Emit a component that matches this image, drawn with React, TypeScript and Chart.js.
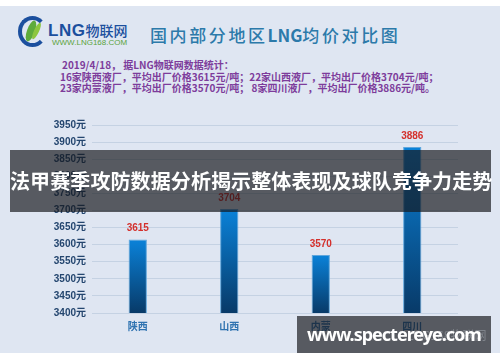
import React, { useEffect, useRef } from "react";
import { Chart, registerables } from "chart.js";

Chart.register(...registerables);

const categories = ["陕西", "山西", "内蒙", "四川"];
const prices = [3615, 3704, 3570, 3886];
const yMin = 3400;
const yMax = 3950;
const yStep = 50;
const tickSuffix = "元";

const noteLines = [
  "2019/4/18， 据LNG物联网数据统计：",
  "16家陕西液厂，平均出厂价格3615元/吨；22家山西液厂，平均出厂价格3704元/吨；",
  "23家内蒙液厂，平均出厂价格3570元/吨； 8家四川液厂，平均出厂价格3886元/吨。",
];
const bannerText = "法甲赛季攻防数据分析揭示整体表现及球队竞争力走势";
const watermarkText = "www.spectereye.com";

const CJK = '"Noto Sans CJK SC", "Noto Sans", sans-serif';

const valueLabelPlugin = {
  id: "valueLabels",
  afterDatasetsDraw(chart: any) {
    const ctx = chart.ctx;
    const meta = chart.getDatasetMeta(0);
    ctx.save();
    ctx.fillStyle = "#d4302c";
    ctx.font = 'bold 10px "Liberation Sans", Arial, sans-serif';
    ctx.textAlign = "center";
    ctx.textBaseline = "middle";
    meta.data.forEach((el: any, i: number) => {
      ctx.fillText(String(chart.data.datasets[0].data[i]), el.x, el.y - 11);
    });
    ctx.restore();
  },
};

function ChartCanvas() {
  const ref = useRef<HTMLCanvasElement | null>(null);
  useEffect(() => {
    if (!ref.current) return;
    const chart = new Chart(ref.current, {
      type: "bar",
      data: {
        labels: categories,
        datasets: [
          {
            data: prices,
            backgroundColor: (c: any) => {
              const chart = c.chart;
              const area = chart.chartArea;
              if (!area || c.raw == null) return "#0a6fc0";
              const y = chart.scales.y.getPixelForValue(c.raw);
              const g = chart.ctx.createLinearGradient(0, y, 0, area.bottom);
              g.addColorStop(0, "#0a82d9");
              g.addColorStop(1, "#083a68");
              return g;
            },
            borderColor: "#5fa6dc",
            borderWidth: 1,
            categoryPercentage: 1,
            barPercentage: 0.2,
          },
        ],
      },
      options: {
        animation: false,
        responsive: false,
        maintainAspectRatio: false,
        devicePixelRatio: 1,
        layout: { padding: { top: 125, left: 0, right: 42, bottom: 0 } },
        plugins: { legend: { display: false }, tooltip: { enabled: false } },
        scales: {
          x: {
            grid: { display: false, drawTicks: false },
            border: { display: false },
            ticks: {
              padding: 7,
              color: "#2e72b0",
              font: { family: CJK, size: 10, weight: "bold" },
            },
            afterFit: (s: any) => {
              s.height = 49;
            },
          },
          y: {
            min: yMin,
            max: yMax,
            grid: { color: "rgba(150,172,200,0.35)", drawTicks: false },
            border: { display: false },
            ticks: {
              stepSize: yStep,
              padding: 6,
              color: "#24466f",
              font: { family: '"Liberation Sans", "Noto Sans CJK SC", sans-serif', size: 10, weight: "bold" },
              callback: (v: any) => v + tickSuffix,
            },
            afterFit: (s: any) => {
              s.width = 92;
            },
          },
        },
      },
      plugins: [valueLabelPlugin],
    } as any);
    return () => chart.destroy();
  }, []);
  return (
    <canvas
      ref={ref}
      width={500}
      height={362}
      style={{ position: "absolute", left: 0, top: 0, width: 500, height: 362 }}
    />
  );
}

export default function App() {
  return (
    <div
      style={{
        position: "absolute",
        left: 0,
        top: 0,
        width: 500,
        height: 362,
        background: "#ffffff",
        overflow: "hidden",
        fontFamily: CJK,
      }}
    >
      <div style={{ position: "absolute", left: 0, top: 6, width: 500, height: 347, background: "#dfe6f2" }} />
      {/* logo */}
      <div style={{ position: "absolute", left: 18, top: 16, width: 29, height: 31, borderRadius: "50%", border: "4px solid #1b4f9e", borderRightColor: "transparent", boxSizing: "border-box" }} />
      <div style={{ position: "absolute", left: 27, top: 20, width: 8, height: 22, borderRadius: "50%", background: "#5eab3c", transform: "rotate(20deg)" }} />
      <div style={{ position: "absolute", left: 34, top: 22, width: 5, height: 18, borderRadius: "50%", background: "#8cc63f", transform: "rotate(25deg)" }} />
      <div style={{ position: "absolute", left: 48, top: 21, fontFamily: '"Liberation Sans", Arial, sans-serif', fontWeight: "bold", fontSize: 17, color: "#1b4f9e", lineHeight: "18px", letterSpacing: "0.5px", whiteSpace: "nowrap" }}>
        LNG<span style={{ fontFamily: CJK, fontSize: 14, color: "#1b4f9e", fontWeight: 500, letterSpacing: "0px" }}>物联网</span>
      </div>
      <div style={{ position: "absolute", left: 52, top: 39, fontFamily: '"Liberation Sans", Arial, sans-serif', fontSize: 8, color: "#5aa33c", lineHeight: "8px", letterSpacing: "0px", whiteSpace: "nowrap" }}>
        WWW.LNG168.COM
      </div>
      {/* title */}
      <div style={{ position: "absolute", left: 150, top: 24, fontSize: 17, lineHeight: "22px", color: "#2c7aaa", letterSpacing: "2.6px", fontWeight: 500, whiteSpace: "nowrap" }}>
        国内部分地区<span style={{ letterSpacing: "0px", fontWeight: 700 }}>LNG</span>均价对比图
      </div>
      {/* notes */}
      <div style={{ position: "absolute", left: 60, top: 59, fontSize: 10, lineHeight: "11.7px", color: "#7d3c9b", fontWeight: "bold", whiteSpace: "pre" }}>
        <div style={{ paddingLeft: 2 }}>{noteLines[0]}</div>
        <div>{noteLines[1]}</div>
        <div>{noteLines[2]}</div>
      </div>
      <ChartCanvas />
      {/* banner overlay */}
      <div
        style={{
          position: "absolute",
          left: 10,
          top: 150,
          width: 481,
          height: 62,
          background: "rgba(22,24,28,0.68)",
          color: "#ffffff",
          fontSize: 20,
          fontWeight: "bold",
          lineHeight: "62px",
          textAlign: "center",
          whiteSpace: "nowrap",
          letterSpacing: "0.1px",
        }}
      >
        {bannerText}
      </div>
      {/* watermark box */}
      <div
        style={{
          position: "absolute",
          left: 297,
          top: 316,
          width: 194,
          height: 37,
          background: "rgba(22,24,28,0.68)",
        }}
      >
        <div style={{ position: "absolute", left: 110, top: 10, fontSize: 12, color: "rgba(200,205,215,0.35)", whiteSpace: "nowrap" }}>
          LNG168物联网
        </div>
        <div
          style={{
            position: "absolute",
            left: 0,
            top: 0,
            width: 194,
            height: 37,
            lineHeight: "37px",
            textAlign: "center",
            color: "#ffffff",
            fontFamily: '"Noto Sans", "Open Sans", sans-serif',
            fontWeight: "bold",
            fontSize: 18,
            whiteSpace: "nowrap",
            letterSpacing: "-1px",
          }}
        >
          {watermarkText}
        </div>
      </div>
    </div>
  );
}
